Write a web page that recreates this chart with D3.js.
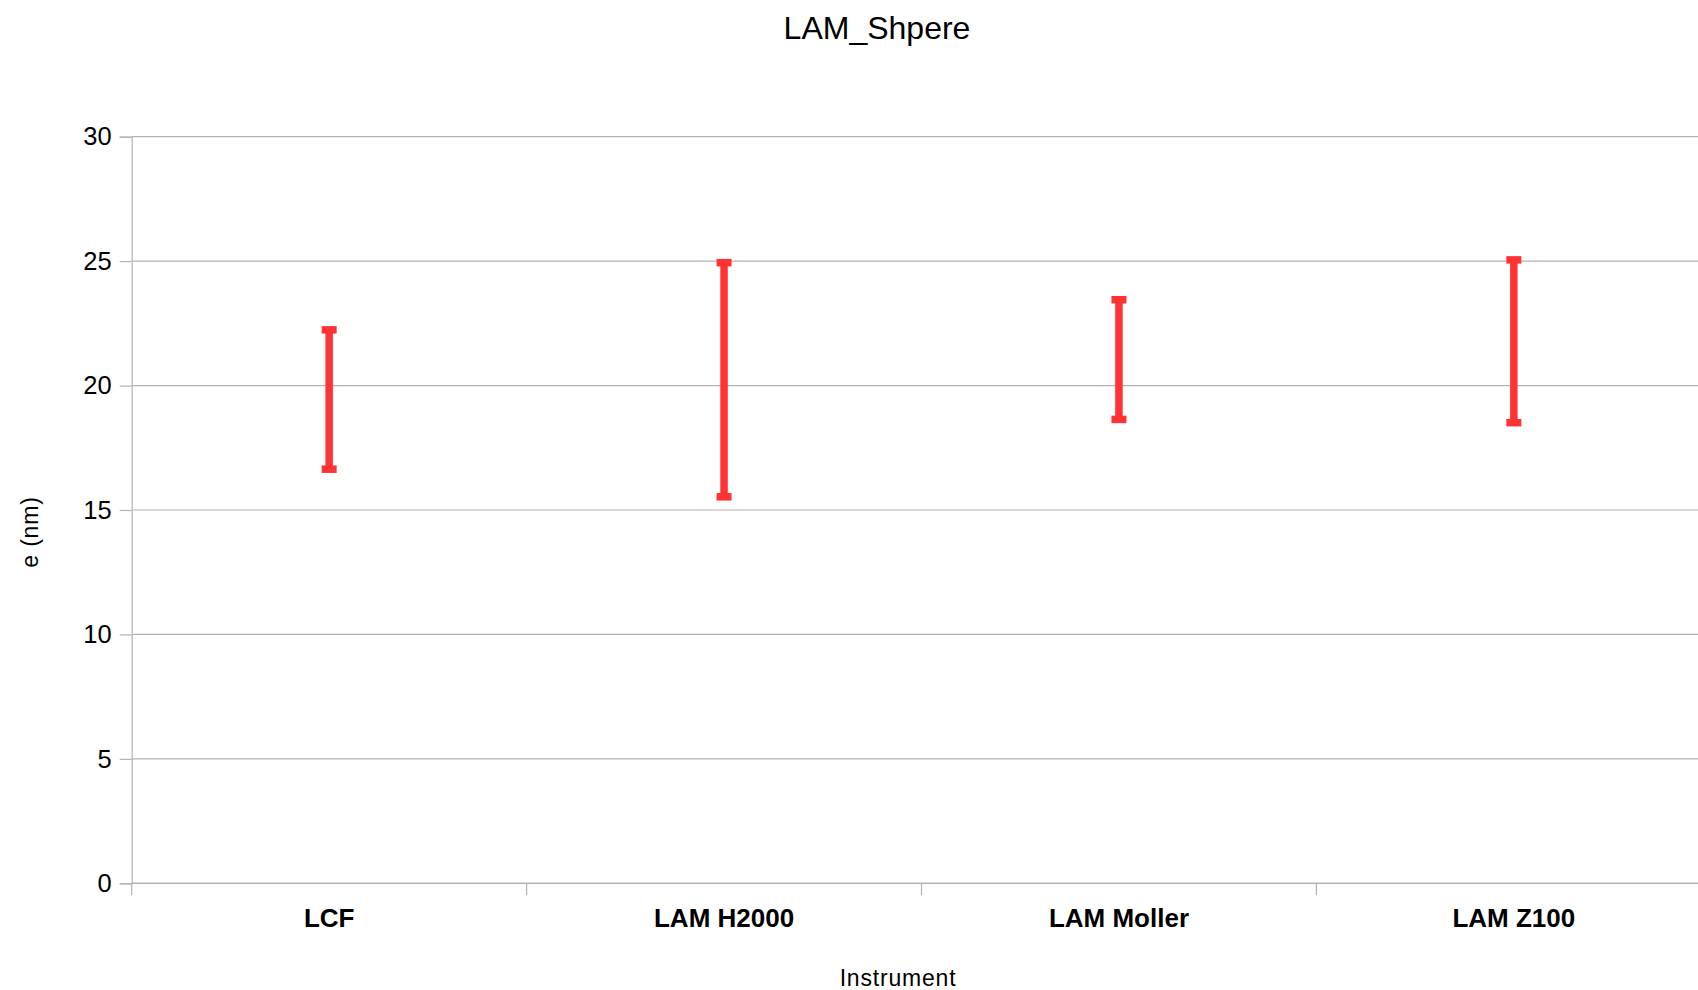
<!DOCTYPE html>
<html>
<head>
<meta charset="utf-8">
<script src="https://cdn.jsdelivr.net/npm/d3@7"></script>
<style>
  html, body { margin: 0; padding: 0; background: #fff; }
  svg { display: block; font-family: "Liberation Sans", Arial, sans-serif; }
</style>
</head>
<body>
<svg id="chart" width="1698" height="990"></svg>
<script>
// Instrument categories and the low/high range of e (nm) for each
const instruments = ["LCF", "LAM H2000", "LAM Moller", "LAM Z100"];
const lowValues  = [16.64, 15.53, 18.64, 18.51];
const highValues = [22.24, 24.94, 23.45, 25.05];
const yTicks = [0, 5, 10, 15, 20, 25, 30];

const svg = d3.select("#chart");
const margin = { left: 131.7, top: 136.7, bottom: 883.3 };
const plotRight = 1711.3;

const x = d3.scaleBand().domain(instruments).range([margin.left, plotRight]).padding(0);
const y = d3.scaleLinear().domain([0, 30]).range([margin.bottom, margin.top]);

const gridColor = "#b3b3b3";
const red = "#ff3333";

// horizontal gridlines
svg.append("g").selectAll("line").data(yTicks.filter(d => d > 0)).join("line")
  .attr("x1", margin.left).attr("x2", plotRight)
  .attr("y1", d => y(d)).attr("y2", d => y(d))
  .attr("stroke", gridColor).attr("stroke-width", 1.2);

// y axis
const yAxis = svg.append("g").attr("transform", `translate(${margin.left},0)`)
  .call(d3.axisLeft(y).tickValues(yTicks).tickSize(12).tickPadding(8).tickFormat(d3.format("d")));
yAxis.select(".domain").attr("stroke", gridColor).attr("stroke-width", 1.2);
yAxis.selectAll(".tick line").attr("stroke", gridColor).attr("stroke-width", 1.2);
yAxis.selectAll(".tick text").attr("font-size", 25.5).attr("fill", "#000")
  .attr("font-family", "Liberation Sans, Arial, sans-serif");

// x axis with ticks on band boundaries
const xAxisG = svg.append("g").attr("transform", `translate(0,${margin.bottom})`);
xAxisG.append("line").attr("x1", margin.left).attr("x2", plotRight)
  .attr("stroke", gridColor).attr("stroke-width", 1.4);
const boundaries = instruments.map(d => x(d)).concat([plotRight]);
xAxisG.selectAll("line.tk").data(boundaries).join("line").attr("class", "tk")
  .attr("x1", d => d).attr("x2", d => d).attr("y1", 0).attr("y2", 12)
  .attr("stroke", gridColor).attr("stroke-width", 1.2);
xAxisG.selectAll("text").data(instruments).join("text")
  .attr("x", d => x(d) + x.bandwidth() / 2).attr("y", 44)
  .attr("text-anchor", "middle").attr("font-size", 26).attr("font-weight", "bold")
  .text(d => d);

// error bars
const capW = 15, lineW = 7.5;
const bars = svg.append("g").selectAll("g").data(instruments).join("g");
bars.append("line")
  .attr("x1", d => x(d) + x.bandwidth() / 2).attr("x2", d => x(d) + x.bandwidth() / 2)
  .attr("y1", (d, i) => y(highValues[i])).attr("y2", (d, i) => y(lowValues[i]))
  .attr("stroke", red).attr("stroke-width", lineW);
bars.append("line")
  .attr("x1", d => x(d) + x.bandwidth() / 2 - capW / 2).attr("x2", d => x(d) + x.bandwidth() / 2 + capW / 2)
  .attr("y1", (d, i) => y(highValues[i])).attr("y2", (d, i) => y(highValues[i]))
  .attr("stroke", red).attr("stroke-width", lineW);
bars.append("line")
  .attr("x1", d => x(d) + x.bandwidth() / 2 - capW / 2).attr("x2", d => x(d) + x.bandwidth() / 2 + capW / 2)
  .attr("y1", (d, i) => y(lowValues[i])).attr("y2", (d, i) => y(lowValues[i]))
  .attr("stroke", red).attr("stroke-width", lineW);

// title and axis titles
svg.append("text").attr("x", 877).attr("y", 39).attr("text-anchor", "middle")
  .attr("font-size", 32).text("LAM_Shpere");
svg.append("text").attr("x", 898).attr("y", 986).attr("text-anchor", "middle")
  .attr("font-size", 23).attr("letter-spacing", 0.8).text("Instrument");
svg.append("text").attr("transform", "translate(38,532) rotate(-90)")
  .attr("text-anchor", "middle").attr("font-size", 23).attr("letter-spacing", 0.8).text("e (nm)");
</script>
</body>
</html>
